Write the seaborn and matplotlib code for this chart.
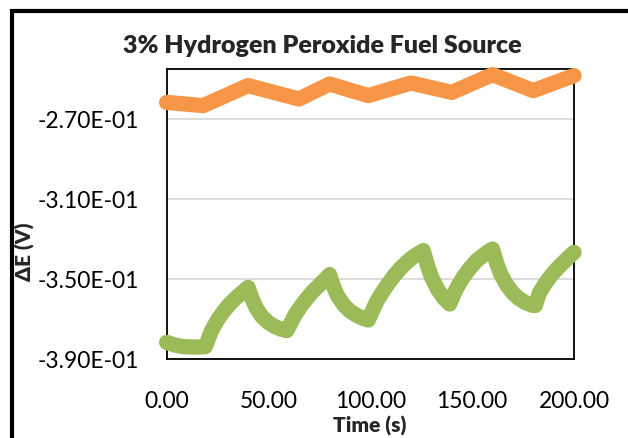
import matplotlib
matplotlib.use("Agg")
import matplotlib.pyplot as plt
from matplotlib.patches import Rectangle
import seaborn as sns
import pandas as pd

# orange series (coarse sampling)
t_orange = [0, 18, 40, 65, 80, 99, 120, 140, 160, 180, 200]
e_orange = [-0.2617, -0.2633, -0.2533, -0.2600, -0.2525, -0.2583,
            -0.2520, -0.2567, -0.2478, -0.2558, -0.2483]

# green series
t_green = [0, 4, 8, 12, 16, 19, 22, 25, 28, 31, 34, 37, 40,
           42, 44, 47, 50, 53, 56, 59,
           61, 63, 66, 69, 72, 75, 78, 80,
           82, 84, 87, 90, 93, 96, 99,
           101, 103, 106, 109, 112, 115, 118, 121, 124, 126,
           128, 130, 133, 136, 139,
           141, 143, 146, 149, 152, 155, 158, 160,
           162, 164, 167, 170, 173, 176, 179, 181,
           183, 186, 189, 192, 195, 198, 200]
e_green = [-0.3817, -0.3830, -0.3838, -0.3840, -0.3840, -0.3838, -0.3760, -0.3705, -0.3662, -0.3625, -0.3595, -0.3568, -0.3542,
           -0.3600, -0.3645, -0.3690, -0.3718, -0.3737, -0.3750, -0.3758,
           -0.3720, -0.3680, -0.3635, -0.3595, -0.3560, -0.3530, -0.3500, -0.3478,
           -0.3540, -0.3585, -0.3630, -0.3660, -0.3680, -0.3695, -0.3705,
           -0.3660, -0.3615, -0.3565, -0.3520, -0.3480, -0.3445, -0.3415, -0.3390, -0.3370, -0.3358,
           -0.3430, -0.3490, -0.3550, -0.3595, -0.3625,
           -0.3575, -0.3535, -0.3485, -0.3445, -0.3410, -0.3385, -0.3362, -0.3350,
           -0.3420, -0.3475, -0.3530, -0.3570, -0.3598, -0.3617, -0.3630, -0.3633,
           -0.3570, -0.3520, -0.3480, -0.3445, -0.3415, -0.3385, -0.3367]

y_ticks = [-0.39, -0.35, -0.31, -0.27]
x_ticks = [0, 50, 100, 150, 200]

sns.set_style("white")
plt.rcParams['font.family'] = ['Lato', 'DejaVu Sans']

df_o = pd.DataFrame({'t': t_orange, 'e': e_orange})
df_g = pd.DataFrame({'t': t_green, 'e': e_green})

fig = plt.figure(figsize=(6.28, 4.39), dpi=100)
ax = fig.add_axes([166.6/628, 1-360/439, (574-166.6)/628, 290/439])

sns.lineplot(data=df_o, x='t', y='e', ax=ax, color='#F79646', lw=11,
             solid_capstyle='round', solid_joinstyle='round', clip_on=False, zorder=3)
sns.lineplot(data=df_g, x='t', y='e', ax=ax, color='#9BBB59', lw=11,
             solid_capstyle='round', solid_joinstyle='round', clip_on=False, zorder=3)

ax.set_xlim(0, 200)
ax.set_ylim(-0.39, -0.245)
ax.set_yticks(y_ticks)
ax.set_yticklabels(['%.2E' % v for v in y_ticks])
ax.set_xticks(x_ticks)
ax.set_xticklabels(['%.2f' % v for v in x_ticks])
ax.tick_params(axis='y', length=0, pad=20, labelsize=16.5, colors='black')
ax.tick_params(axis='x', length=0, pad=22, labelsize=16.5, colors='black')
ax.grid(axis='y', color='#d9d9d9', lw=1.3)
ax.set_axisbelow(True)
for s in ax.spines.values():
    s.set_visible(True)
    s.set_color('black')
    s.set_linewidth(1.3)
ax.set_xlabel('')
ax.set_ylabel('')

fig.text(322.5/628, 1-46/439, '3% Hydrogen Peroxide Fuel Source', ha='center', va='center',
         fontsize=18, fontweight='heavy')
fig.text(370/628, 1-425.5/439, 'Time (s)', ha='center', va='center',
         fontsize=15, fontweight='heavy')
fig.text(25/628, 1-252/439, 'ΔE (V)', ha='center', va='center', rotation=90,
         fontsize=15, fontweight='heavy')

# outer chart frame, running off the right and bottom edges
fig.add_artist(Rectangle((11.5/628, -0.1), 1.2, 1 + 0.1 - 12.5/439, transform=fig.transFigure,
                         fill=False, edgecolor='black', lw=3))

fig.savefig('out.png', dpi=100)
